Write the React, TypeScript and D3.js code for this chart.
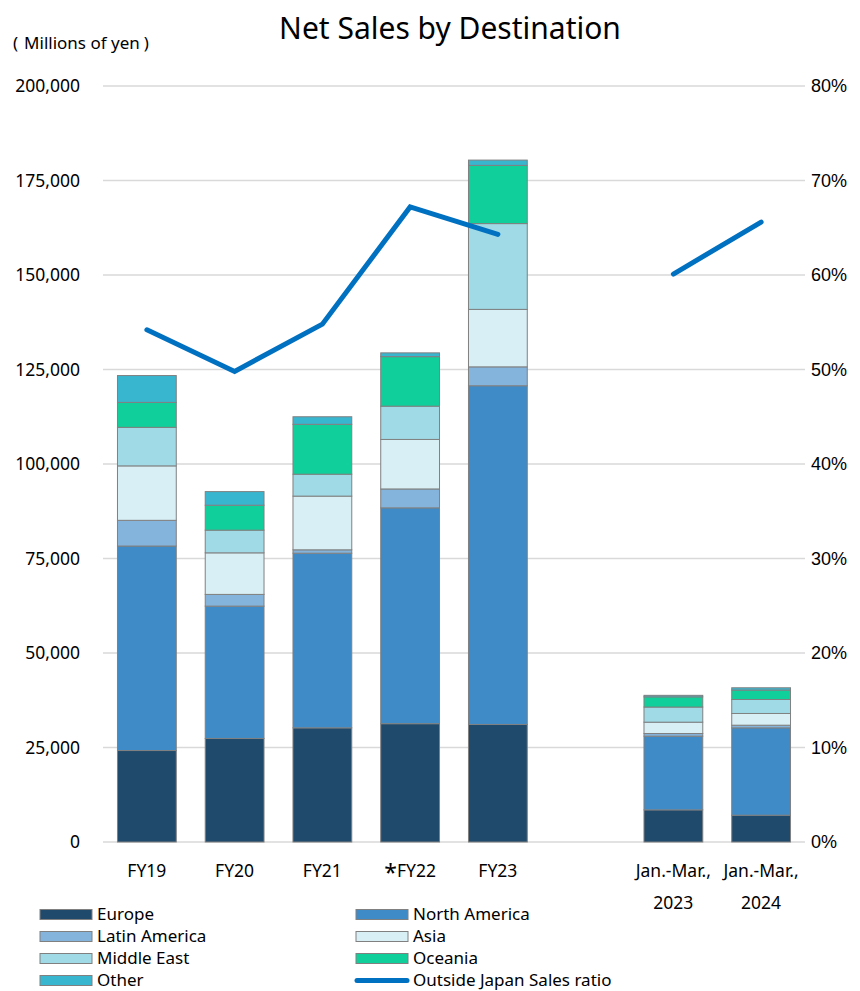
import React from "react";
import * as d3 from "d3";

const categories = ["FY19", "FY20", "FY21", "FY22", "FY23", "gap", "JM2023", "JM2024"];
const categoryLabels: string[][] = [["FY19"], ["FY20"], ["FY21"], ["*FY22"], ["FY23"], [], ["Jan.-Mar.,", "2023"], ["Jan.-Mar.,", "2024"]];

const seriesNames = ["Europe", "North America", "Latin America", "Asia", "Middle East", "Oceania", "Other"];
const seriesColors = ["#204a6c", "#3e8bc7", "#84b3db", "#d7eff5", "#9fdae6", "#10cf9a", "#38b6d0"];

// thousands of millions of yen, per category (gap slot = null)
const europe = [24.2, 27.4, 30.2, 31.3, 31.1, null, 8.5, 7.1];
const northAmerica = [54.1, 35.0, 46.2, 57.1, 89.6, null, 19.5, 23.1];
const latinAmerica = [6.8, 3.1, 0.9, 5.0, 5.0, null, 0.7, 0.7];
const asia = [14.4, 11.0, 14.2, 13.1, 15.2, null, 3.0, 3.1];
const middleEast = [10.2, 6.0, 5.8, 8.8, 22.7, null, 4.0, 3.7];
const oceania = [6.6, 6.6, 13.2, 13.1, 15.4, null, 2.7, 2.5];
const other = [7.1, 3.6, 2.0, 1.0, 1.4, null, 0.4, 0.6];

const outsideRatio = [54.2, 49.8, 54.8, 67.2, 64.3, null, 60.1, 65.6];

const leftTicks = [0, 25000, 50000, 75000, 100000, 125000, 150000, 175000, 200000];
const rightTicks = [0, 10, 20, 30, 40, 50, 60, 70, 80];

const W = 860, H = 991;
const X0 = 103, X1 = 805, Y0 = 842, Y1 = 86;
const FONT = "'Noto Sans', 'Open Sans', sans-serif";

export default function App() {
  const series = [europe, northAmerica, latinAmerica, asia, middleEast, oceania, other];
  const x = d3.scaleBand<string>().domain(categories).range([X0, X1]).paddingInner(0.33).paddingOuter(0.165);
  const y = d3.scaleLinear().domain([0, 200000]).range([Y0, Y1]);
  const y2 = d3.scaleLinear().domain([0, 80]).range([Y0, Y1]);

  const rects: JSX.Element[] = [];
  categories.forEach((c, ci) => {
    let cum = 0;
    series.forEach((s, si) => {
      const v = s[ci];
      if (v == null) return;
      const y0v = cum * 1000;
      cum += v;
      const y1v = cum * 1000;
      rects.push(
        <rect key={c + si} x={x(c)!} width={x.bandwidth()} y={y(y1v)} height={y(y0v) - y(y1v)}
          fill={seriesColors[si]} stroke="#808080" strokeWidth={1} />
      );
    });
  });

  const lineGen = d3.line<number | null>()
    .defined((d) => d != null)
    .x((_, i) => x(categories[i])! + x.bandwidth() / 2)
    .y((d) => y2(d as number));

  const fmt = d3.format(",");

  const legendItems = seriesNames.map((n, i) => ({ name: n, color: seriesColors[i], line: false }));
  legendItems.push({ name: "Outside Japan Sales ratio", color: "#0070c0", line: true });

  return (
    <svg width={W} height={H} style={{ position: "absolute", left: 0, top: 0 }} fontFamily={FONT}>
      <rect width={W} height={H} fill="#fff" />
      <text x={450} y={39} textAnchor="middle" fontSize={30} fill="#000">Net Sales by Destination</text>
      <text x={13} y={49} fontSize={17} fill="#000">
        <tspan>(</tspan><tspan dx={6}>Millions of yen</tspan><tspan dx={4}>)</tspan>
      </text>
      {leftTicks.map((t) => (
        <g key={t}>
          <line x1={X0} x2={X1} y1={y(t)} y2={y(t)} stroke="#d9d9d9" strokeWidth={1.5} />
          <text x={80} y={y(t)} dy="0.35em" textAnchor="end" fontSize={17.5} fill="#000">{fmt(t)}</text>
        </g>
      ))}
      {rightTicks.map((t) => (
        <text key={t} x={811} y={y2(t)} dy="0.35em" fontSize={18} fill="#000"
          fontFamily="'Liberation Sans', Arial, sans-serif">{t}%</text>
      ))}
      {rects}
      <path d={lineGen(outsideRatio) || ""} fill="none" stroke="#0070c0" strokeWidth={5}
        strokeLinecap="round" strokeLinejoin="miter" />
      {categories.map((c, ci) => (
        <text key={c} x={x(c)! + x.bandwidth() / 2} y={877} textAnchor="middle" fontSize={17.5} fill="#000">
          {categoryLabels[ci].map((l, li) => (
            <tspan key={li} x={x(c)! + x.bandwidth() / 2} dy={li === 0 ? 0 : 32}>
              {l.startsWith("*") ? (<><tspan fontSize={23} dy={4}>*</tspan><tspan dy={-4}>{l.slice(1)}</tspan></>) : l}
            </tspan>
          ))}
        </text>
      ))}
      {legendItems.map((it, i) => {
        const col = i % 2, row = Math.floor(i / 2);
        const lx = col === 0 ? 40 : 356;
        const ly = 909.5 + row * 22;
        return (
          <g key={it.name}>
            {it.line ? (
              <line x1={lx + 1} x2={lx + 51} y1={ly + 5} y2={ly + 5} stroke={it.color} strokeWidth={5} strokeLinecap="round" />
            ) : (
              <rect x={lx} y={ly} width={52} height={10} fill={it.color} stroke="#808080" strokeWidth={1} />
            )}
            <text x={lx + 57} y={ly + 5} dy="0.33em" fontSize={17} fill="#000">{it.name}</text>
          </g>
        );
      })}
    </svg>
  );
}
